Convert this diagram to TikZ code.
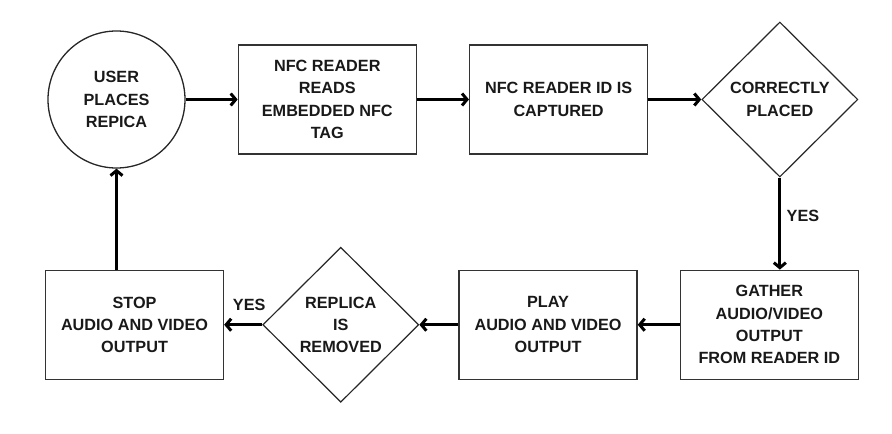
\documentclass[tikz,border=0pt]{standalone}
\usepackage{fontspec}
\setmainfont{Liberation Sans}
\usetikzlibrary{positioning,shapes.geometric,arrows.meta}
\tikzset{
	font=\bfseries\fontsize{16.3}{22.4}\selectfont, % all texts are bold caps
	every node/.style={align=center, text=black!90}
}

\begin{document}
\begin{tikzpicture}[x=1bp,y=-1bp]
	\tikzset{my box/.style = {rectangle, draw=black!80, line width=1.3bp, minimum width=178bp, minimum height=109bp, inner sep=0pt}}
	\tikzset{my circle/.style = {circle, draw=black!85, line width=1.3bp, minimum size=137bp, inner sep=0pt}}
	\tikzset{my diamond/.style = {diamond, draw=black!85, line width=1.2bp, minimum width=156bp, minimum height=155bp, inner sep=0pt}}
	\tikzset{my edge/.style = {-{Straight Barb[length=5bp,width=12bp]}, line width=3bp}}
	\useasboundingbox (0,0) rectangle (892,434);
	\node[my circle] (1) at (116.5,99.5) {USER\\PLACES\\REPICA};
	\node[my box] (2) [right=52bp of 1] {NFC READER\\READS\\EMBEDDED NFC\\TAG};
	\node[my box] (3) [right=52bp of 2] {NFC READER ID IS\\CAPTURED};
	\node[my diamond] (4) [right=53bp of 3] {CORRECTLY\\PLACED};
	\node[my box] (5) [below=92bp of 4, xshift=-10.5bp] {GATHER\\AUDIO/VIDEO\\OUTPUT\\FROM READER ID};
	\node[my box] (6) [left=42bp of 5] {PLAY\\AUDIO AND VIDEO\\OUTPUT};
	\node[my diamond] (7) [left=39bp of 6] {REPLICA\\IS\\REMOVED};
	\node[my box] (8) [left=38bp of 7] {STOP\\AUDIO AND VIDEO\\OUTPUT};
	\draw[my edge] (1) -- (2);
	\draw[my edge] (2) -- (3);
	\draw[my edge] (3) -- (4);
	\draw[my edge] (4.south) -- (4.south |- 5.north) node[right, pos=0.42, xshift=2bp] {YES};
	\draw[my edge] (5) -- (6);
	\draw[my edge] (6) -- (7);
	\draw[my edge] (7) -- (8) node[midway, above=9bp, xshift=6bp] {YES};
	\draw[my edge] (8.north -| 1.south) -- (1.south);
\end{tikzpicture}
\end{document}
